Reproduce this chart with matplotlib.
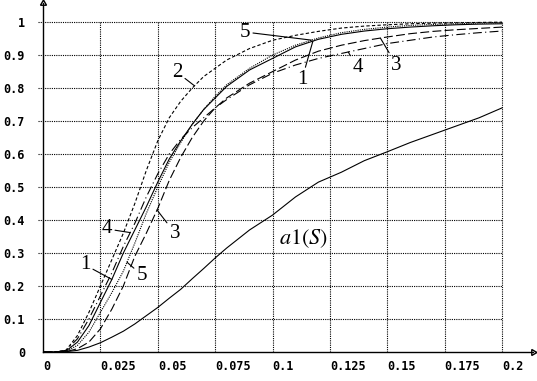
import matplotlib

matplotlib.use("Agg")
import matplotlib.pyplot as plt
import numpy as np

# S values shared by all curves
s = [0, 0.005, 0.01, 0.015, 0.02, 0.025, 0.03, 0.035, 0.04, 0.045, 0.05,
     0.055, 0.06, 0.065, 0.07, 0.075, 0.08, 0.09, 0.1, 0.11, 0.12, 0.13,
     0.14, 0.15, 0.16, 0.17, 0.18, 0.19, 0.2]

curve1 = [0, 0, 0.003, 0.03, 0.08, 0.15, 0.22, 0.30, 0.37, 0.44, 0.515,
          0.585, 0.64, 0.69, 0.735, 0.77, 0.805, 0.855, 0.89, 0.925, 0.948,
          0.963, 0.973, 0.98, 0.985, 0.989, 0.992, 0.994, 0.995]
curve2 = [0, 0, 0.005, 0.05, 0.12, 0.20, 0.28, 0.36, 0.45, 0.55, 0.64,
          0.71, 0.76, 0.80, 0.835, 0.86, 0.885, 0.92, 0.945, 0.96, 0.972,
          0.982, 0.988, 0.992, 0.995, 0.997, 0.998, 0.999, 1.0]
curve3 = [0, 0, 0.001, 0.01, 0.03, 0.07, 0.13, 0.20, 0.29, 0.36, 0.435,
          0.52, 0.59, 0.65, 0.70, 0.74, 0.77, 0.815, 0.85, 0.885, 0.912,
          0.93, 0.944, 0.955, 0.965, 0.972, 0.977, 0.981, 0.985]
curve4 = [0, 0, 0.005, 0.04, 0.10, 0.17, 0.24, 0.32, 0.39, 0.47, 0.54,
          0.60, 0.645, 0.68, 0.71, 0.74, 0.765, 0.81, 0.845, 0.87, 0.89,
          0.905, 0.92, 0.935, 0.945, 0.955, 0.962, 0.968, 0.973]
curve5 = [0, 0, 0.002, 0.02, 0.06, 0.12, 0.18, 0.245, 0.33, 0.42, 0.50,
          0.575, 0.635, 0.69, 0.735, 0.775, 0.81, 0.86, 0.90, 0.93, 0.952,
          0.968, 0.978, 0.985, 0.99, 0.993, 0.995, 0.997, 0.998]
a1 = [0, 0, 0.001, 0.005, 0.015, 0.028, 0.045, 0.063, 0.085, 0.11, 0.135,
      0.163, 0.19, 0.222, 0.253, 0.285, 0.315, 0.37, 0.415, 0.47, 0.515,
      0.545, 0.58, 0.607, 0.635, 0.66, 0.685, 0.71, 0.74]

x_ticks = [0, 0.025, 0.05, 0.075, 0.1, 0.125, 0.15, 0.175, 0.2]
x_tick_labels = ["0", "0.025", "0.05", "0.075", "0.1", "0.125", "0.15", "0.175", "0.2"]
y_ticks = [0, 0.1, 0.2, 0.3, 0.4, 0.5, 0.6, 0.7, 0.8, 0.9, 1.0]
y_tick_labels = ["0", "0.1", "0.2", "0.3", "0.4", "0.5", "0.6", "0.7", "0.8", "0.9", "1"]

fig = plt.figure(figsize=(5.37, 3.81), dpi=100)
ax = fig.add_axes([43 / 537, 29 / 381, 490 / 537, 349 / 381])
ax.set_xlim(0, 0.2135)
ax.set_ylim(0, 1.058)

# dotted grid limited to the [0, 0.2] x [0, 1] box
dots = (0, (1, 1))
ax.hlines(y_ticks[1:], -0.002, 0.2, colors="black", lw=0.8, linestyles=dots, clip_on=False)
ax.vlines(x_ticks[1:], 0, 1.0, colors="black", lw=0.8, linestyles=dots)

k = dict(color="black", lw=0.8)
ax.plot(s, curve1, **k)
ax.plot(s, curve2, dashes=(3, 2), **k)
ax.plot(s, curve3, dashes=(8, 3), **k)
ax.plot(s, curve4, dashes=(8, 3, 1, 3), **k)
ax.plot(s, curve5, dashes=(1, 1), **k)
ax.plot(s, a1, **k)

# numbered labels with leader lines to the curves
lab = dict(fontsize=15, family="Liberation Serif", ha="center", va="center")
arr = dict(arrowstyle="-", lw=0.8, color="black", shrinkA=0, shrinkB=0)
notes = [
    ("5", curve5, 0.117, (0.088, 0.970)),
    ("2", curve2, 0.066, (0.0584, 0.848)),
    ("1", curve1, 0.1176, (0.1128, 0.826)),
    ("4", curve4, 0.133, (0.137, 0.861)),
    ("3", curve3, 0.147, (0.154, 0.870)),
    ("4", curve4, 0.038, (0.0279, 0.373)),
    ("1", curve1, 0.030, (0.0183, 0.264)),
    ("5", curve5, 0.0366, (0.0431, 0.233)),
    ("3", curve3, 0.0497, (0.0575, 0.360)),
]
for txt, ys, xs, pos in notes:
    ax.annotate(txt, xy=(xs, np.interp(xs, s, ys)), xytext=pos,
                arrowprops=arr, **lab)

plt.rcParams["mathtext.fontset"] = "stix"
ax.text(0.1133, 0.345, r"$a1(S)$", fontsize=16, ha="center", va="center")

# axes with arrow heads
for side in ("top", "right"):
    ax.spines[side].set_visible(False)
ax.spines["left"].set_linewidth(1.0)
ax.spines["bottom"].set_linewidth(1.0)
ax.plot(1, 0, marker=(3, 0, -90), ms=5, color="black", mfc="none",
        transform=ax.transAxes, clip_on=False)
ax.plot(0, 1, marker=(3, 0, 0), ms=5, color="black", mfc="none",
        transform=ax.transAxes, clip_on=False)

ax.set_xticks(x_ticks)
ax.set_xticklabels(x_tick_labels, family="DejaVu Sans Mono", weight="bold",
                   fontsize=8.5, ha="left")
ax.set_yticks(y_ticks)
ax.set_yticklabels(y_tick_labels, family="DejaVu Sans Mono", weight="bold",
                   fontsize=8.5)
ax.tick_params(length=0)
ax.tick_params(axis="x", pad=5.5)
ax.tick_params(axis="y", pad=13)

fig.savefig("out.png", dpi=100)
